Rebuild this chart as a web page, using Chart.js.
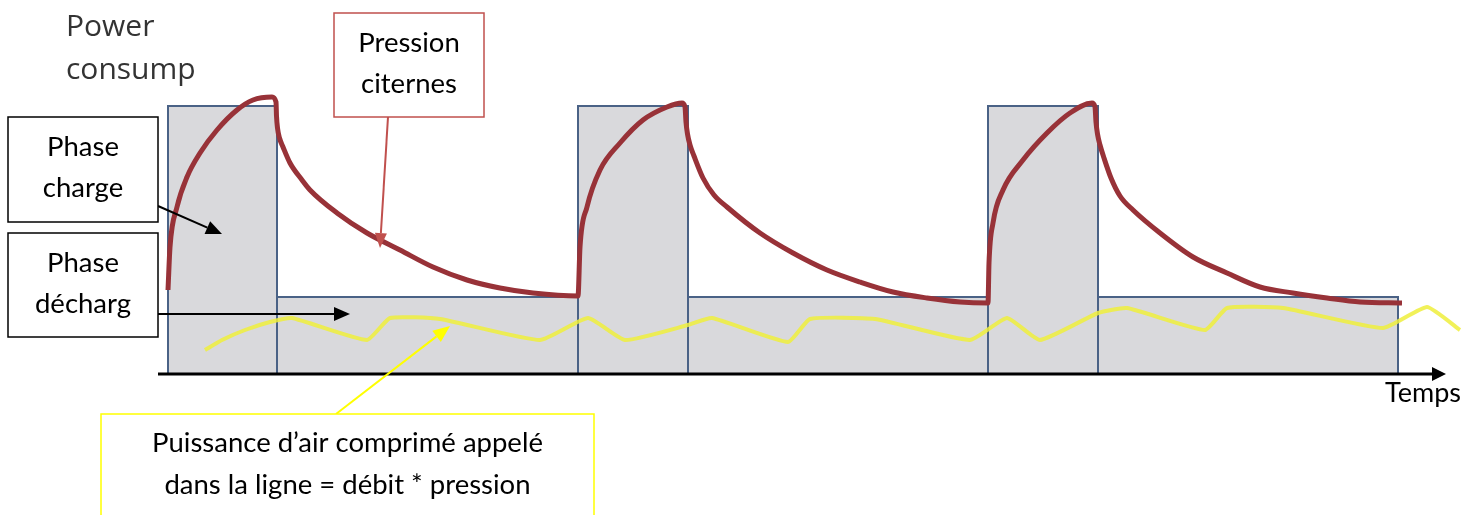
<!DOCTYPE html>
<html>
<head>
<meta charset="utf-8">
<script src="https://cdn.jsdelivr.net/npm/chart.js"></script>
<style>
  html, body { margin: 0; padding: 0; background: #fff; }
  #wrap { width: 1478px; height: 515px; position: relative; }
</style>
</head>
<body>
<div id="wrap"><canvas id="myChart"></canvas></div>
<script>
// phases: charge / décharge, time in arbitrary units, power level
const phaseBounds = [1.0, 11.9, 42.0, 53.0, 83.0, 94.0, 124.0];
const phaseLevels = [26.8, 7.7, 26.8, 7.7, 26.8, 7.7];

// pression citernes
const pressureTime = [
  1.0, 1.2, 1.9, 2.9, 4.2, 5.9, 7.9, 9.5, 11.4,
  11.8, 11.85, 11.95, 12.15, 12.5, 13.2, 14.4, 15.2, 17.9, 20.9, 24.2, 27.5, 30.9, 34.2, 37.5, 42.0,
  42.2, 42.9, 44.2, 46.2, 48.5, 50.9, 52.4,
  52.7, 52.8, 52.95, 53.2, 53.6, 54.5, 55.6, 56.9, 60.2, 63.5, 66.9, 70.2, 73.5, 76.9, 80.2, 83.0,
  83.1, 83.5, 84.5, 86.5, 88.9, 91.2, 93.4,
  93.7, 93.8, 93.95, 94.2, 94.6, 95.3, 96.2, 97.5, 100.2, 103.5, 106.9, 110.2, 113.5, 116.9, 120.2, 124.4
];
const pressureValues = [
  8.4, 12.7, 16.7, 19.7, 22.1, 24.4, 26.4, 27.4, 27.7,
  27.2, 25.8, 24.6, 23.6, 22.7, 21.1, 19.4, 18.4, 16.1, 14.1, 12.4, 10.7, 9.4, 8.6, 8.1, 7.8,
  12.7, 16.7, 20.4, 23.1, 25.4, 26.7, 27.1,
  26.7, 25.2, 24.0, 22.9, 21.8, 19.6, 17.9, 16.7, 14.1, 12.1, 10.4, 9.2, 8.2, 7.6, 7.2, 7.1,
  11.1, 15.1, 18.4, 21.4, 24.1, 26.1, 27.1,
  26.7, 25.2, 24.0, 22.9, 21.6, 19.6, 17.8, 16.4, 14.1, 11.7, 10.1, 8.7, 8.1, 7.6, 7.2, 7.1
];

// puissance d'air comprimé appelé dans la ligne
const airTime = [
  4.7, 6.4, 8.7, 11.2, 13.4, 20.9, 23.2, 28.2, 38.2, 43.0, 46.7, 53.0, 55.4,
  63.0, 65.2, 71.7, 81.2, 84.9, 88.2, 94.0, 96.9, 104.7, 106.9, 112.5, 122.5,
  126.9, 130.2
];
const airValues = [
  2.4, 3.4, 4.4, 5.2, 5.6, 3.4, 5.6, 5.5, 3.4, 5.6, 3.4, 4.9, 5.6,
  3.2, 5.5, 5.5, 3.4, 5.6, 3.4, 6.1, 6.6, 4.4, 6.6, 6.6, 4.6,
  6.7, 4.4
];

const axisEnd = 128.8;

const FONT = "Lato, 'Open Sans', sans-serif";

const phaseDatasets = phaseLevels.map((level, i) => {
  const x0 = phaseBounds[i];
  const x1 = phaseBounds[i + 1];
  return {
    label: i % 2 === 0 ? "Phase charge" : "Phase décharge",
    data: [
      { x: x0, y: 0 },
      { x: x0, y: level },
      { x: x1, y: level },
      { x: x1, y: 0 },
    ],
    borderColor: "#4a6286",
    borderWidth: 2,
    backgroundColor: "#d9d9dc",
    fill: "origin",
    pointRadius: 0,
    tension: 0,
    order: 3,
  };
});

const pressureData = pressureTime.map((t, i) => ({ x: t, y: pressureValues[i] }));
const airData = airTime.map((t, i) => ({ x: t, y: airValues[i] }));

function drawArrow(ctx, x1, y1, x2, y2, color, width, headLen, headW) {
  const ang = Math.atan2(y2 - y1, x2 - x1);
  const bx = x2 - headLen * Math.cos(ang);
  const by = y2 - headLen * Math.sin(ang);
  ctx.save();
  ctx.strokeStyle = color;
  ctx.fillStyle = color;
  ctx.lineWidth = width;
  ctx.beginPath();
  ctx.moveTo(x1, y1);
  ctx.lineTo(bx, by);
  ctx.stroke();
  ctx.beginPath();
  ctx.moveTo(x2, y2);
  ctx.lineTo(bx + (headW / 2) * Math.sin(ang), by - (headW / 2) * Math.cos(ang));
  ctx.lineTo(bx - (headW / 2) * Math.sin(ang), by + (headW / 2) * Math.cos(ang));
  ctx.closePath();
  ctx.fill();
  ctx.restore();
}

function textBox(ctx, box, lines, color, textY) {
  ctx.save();
  ctx.strokeStyle = color;
  ctx.lineWidth = 1.5;
  ctx.fillStyle = "#fff";
  ctx.fillRect(box.x, box.y, box.w, box.h);
  ctx.strokeRect(box.x, box.y, box.w, box.h);
  ctx.fillStyle = "#000";
  ctx.font = "27.5px " + FONT;
  ctx.textAlign = "center";
  ctx.textBaseline = "middle";
  lines.forEach((l, i) => ctx.fillText(l, box.x + box.w / 2, textY[i]));
  ctx.restore();
}

const annotations = {
  id: "annotations",
  afterDatasetsDraw(chart) {
    const { ctx, scales: { x, y } } = chart;

    // time axis
    drawArrow(ctx, x.getPixelForValue(0), y.getPixelForValue(0),
      x.getPixelForValue(axisEnd), y.getPixelForValue(0), "#000", 3, 14, 14);

    ctx.save();
    ctx.fillStyle = "#000";
    ctx.font = "27px " + FONT;
    ctx.textAlign = "center";
    ctx.textBaseline = "middle";
    ctx.fillText("Temps", 1423, 393);

    ctx.fillStyle = "#333";
    ctx.font = "30px 'Open Sans', sans-serif";
    ctx.textAlign = "left";
    ctx.fillText("Power", 66, 27);
    ctx.fillText("consump", 66, 70);
    ctx.restore();

    // callout arrows
    drawArrow(ctx, 158, 206, 222, 234, "#000", 2, 16, 14);
    drawArrow(ctx, 158, 314, 350, 314, "#000", 2, 16, 14);
    drawArrow(ctx, 388, 117, 380, 248, "#c0504d", 2, 15, 12);
    drawArrow(ctx, 336, 414, 450, 326, "#ffff00", 2, 17, 14);

    textBox(ctx, { x: 8, y: 117, w: 150, h: 105 }, ["Phase", "charge"], "#000", [147, 188]);
    textBox(ctx, { x: 8, y: 233, w: 150, h: 104 }, ["Phase", "décharg"], "#000", [263, 304]);
    textBox(ctx, { x: 334, y: 13, w: 150, h: 104 }, ["Pression", "citernes"], "#c0504d", [43, 84]);
    textBox(ctx, { x: 101, y: 414, w: 493, h: 110 },
      ["Puissance d’air comprimé appelé", "dans la ligne = débit * pression"], "#ffff00", [443, 485]);
  },
};

new Chart(document.getElementById("myChart"), {
  type: "line",
  data: {
    datasets: [
      {
        label: "Pression citernes",
        data: pressureData,
        borderColor: "#983238",
        borderWidth: 5,
        pointRadius: 0,
        cubicInterpolationMode: "monotone",
        fill: false,
        order: 0,
      },
      {
        label: "Puissance d'air comprimé",
        data: airData,
        borderColor: "rgba(238, 238, 60, 0.85)",
        borderWidth: 4,
        pointRadius: 0,
        tension: 0.15,
        fill: false,
        order: 1,
      },
      ...phaseDatasets,
    ],
  },
  options: {
    responsive: true,
    maintainAspectRatio: false,
    animation: false,
    layout: { padding: 0 },
    plugins: {
      legend: { display: false },
      tooltip: { enabled: false },
    },
    scales: {
      x: { type: "linear", min: -15.8, max: 132, display: false },
      y: { type: "linear", min: -14.1, max: 37.4, display: false },
    },
  },
  plugins: [annotations],
});
</script>
</body>
</html>
